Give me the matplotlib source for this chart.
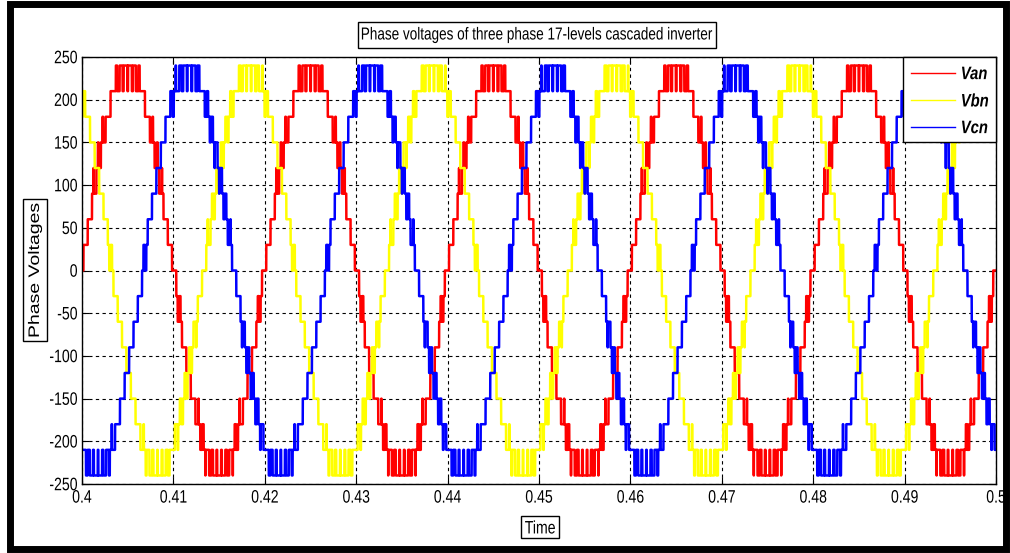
import numpy as np
import matplotlib.pyplot as plt
from matplotlib.patches import Rectangle, PathPatch
from matplotlib.textpath import TextPath
from matplotlib.font_manager import FontProperties
from matplotlib.transforms import Affine2D, ScaledTranslation

# values
phase_labels = ["Van", "Vbn", "Vcn"]
phase_colors = ["#ff0000", "#ffff00", "#0000ff"]
phase_shift_deg = [0, 120, -120]     # Vcn peaks 1/3 period after Van
step_volts = 30                      # 17 levels: -240 ... 240
ref_amplitude = 236                  # top band chatters between 210 and 240
f_fund = 50
f_carrier = 2000
t_start, t_end = 0.4, 0.5
x_ticks = [0.4, 0.41, 0.42, 0.43, 0.44, 0.45, 0.46, 0.47, 0.48, 0.49, 0.5]
x_ticklabels = ["0.4", "0.41", "0.42", "0.43", "0.44", "0.45", "0.46", "0.47", "0.48", "0.49", "0.5"]
y_ticks = [-250, -200, -150, -100, -50, 0, 50, 100, 150, 200, 250]
y_ticklabels = ["-250", "-200", "-150", "-100", "-50", "0", "50", "100", "150", "200", "250"]
title = "Phase voltages of three phase 17-levels cascaded inverter"

t = np.arange(t_start, t_end, 1e-6)
carrier = np.abs(2 * ((t * f_carrier) % 1.0) - 1)


def phase_voltage(shift):
    # level shifted (phase disposition) PWM of a sine reference
    ref = ref_amplitude * np.sin(2 * np.pi * f_fund * t + np.deg2rad(shift)) / step_volts
    base = np.floor(ref)
    return step_volts * (base + ((ref - base) > carrier))


fig = plt.figure(figsize=(10.1, 5.53), dpi=100)
ax = fig.add_axes([82 / 1010, 1 - 484 / 553, 914 / 1010, 427 / 553])


def narrow_text(s, x, y, trans, size=12, sx=0.78, sy=1.0, ha='center', va='center',
                rot=0, dx=0, dy=0, weight='normal', style='normal', box=False):
    # matlab export uses a squeezed Arial, so draw the glyphs as squashed paths
    fp = FontProperties(family='Liberation Sans', size=size, weight=weight, style=style)
    tp = TextPath((0, 0), s, prop=fp)
    ext = tp.get_extents()
    ox = {'left': ext.x0, 'center': (ext.x0 + ext.x1) / 2, 'right': ext.x1}[ha]
    oy = {'bottom': ext.y0, 'center': (ext.y0 + ext.y1) / 2, 'top': ext.y1}[va]
    k = fig.dpi / 72
    tr = (Affine2D().translate(-ox, -oy).scale(sx * k, sy * k).rotate_deg(rot).translate(dx, dy)
          + ScaledTranslation(x, y, trans))
    if box:
        px, py = 3.0 / sx, 3.5 / sy
        fig.add_artist(Rectangle((ext.x0 - px, ext.y0 - py), ext.width + 2 * px, ext.height + 2 * py,
                                 transform=tr, facecolor='white', edgecolor='black', lw=1.0))
    fig.add_artist(PathPatch(tp, transform=tr, facecolor='black', lw=0))


for lab, col, sh in zip(phase_labels, phase_colors, phase_shift_deg):
    ax.plot(t, phase_voltage(sh), color=col, lw=1.8, label=lab)

ax.set_xlim(t_start, t_end)
ax.set_ylim(-250, 250)
ax.set_xticks(x_ticks)
ax.set_yticks(y_ticks)
ax.tick_params(direction='in', labelbottom=False, labelleft=False,
               top=True, right=True, length=5)
ax.grid(True, color='black', linestyle=(0, (3, 3)), linewidth=0.8)
for s in ax.spines.values():
    s.set_linewidth(1.0)

for xv, lab in zip(x_ticks, x_ticklabels):
    narrow_text(lab, xv, 0, ax.get_xaxis_transform(), size=13, va='top', dy=-6)
for yv, lab in zip(y_ticks, y_ticklabels):
    narrow_text(lab, 0, yv, ax.get_yaxis_transform(), size=13, ha='right', dx=-5)

# legend drawn by hand, flush with the top right corner
lx0, lx1, ly0, ly1 = 903, 996, 57, 142
ax.add_patch(Rectangle(((lx0 - 82) / 914, (484 - ly1) / 427), (lx1 - lx0) / 914, (ly1 - ly0) / 427,
                       transform=ax.transAxes, facecolor='white', edgecolor='black', lw=1.0,
                       zorder=10, clip_on=False))
for i, (lab, col) in enumerate(zip(phase_labels, phase_colors)):
    yp = (484 - (73 + 27 * i)) / 427
    ax.plot([(911 - 82) / 914, (955 - 82) / 914], [yp, yp], color=col, lw=1.0,
            transform=ax.transAxes, zorder=11, clip_on=False)
    narrow_text(lab, (962 - 82) / 914, yp, ax.transAxes, size=13, ha='left',
                weight='bold', style='italic', sx=0.82)

narrow_text(title, 537 / 1010, 1 - 35 / 553, fig.transFigure, size=12.5, box=True)
# rotated label: the squeeze acts across the glyphs, not along the text
narrow_text("Phase Voltages", 35 / 1010, 1 - 270 / 553, fig.transFigure, size=14,
            sx=1.0, sy=0.78, rot=90, box=True)
narrow_text("Time", 540 / 1010, 1 - 527 / 553, fig.transFigure, size=13, box=True)

# thick black frame round the whole picture
fig.add_artist(Rectangle((10 / 1010, 4 / 553), 996 / 1010, 545 / 553,
                         transform=fig.transFigure, fill=False,
                         edgecolor='black', linewidth=5))

fig.savefig("out.png", dpi=100)
